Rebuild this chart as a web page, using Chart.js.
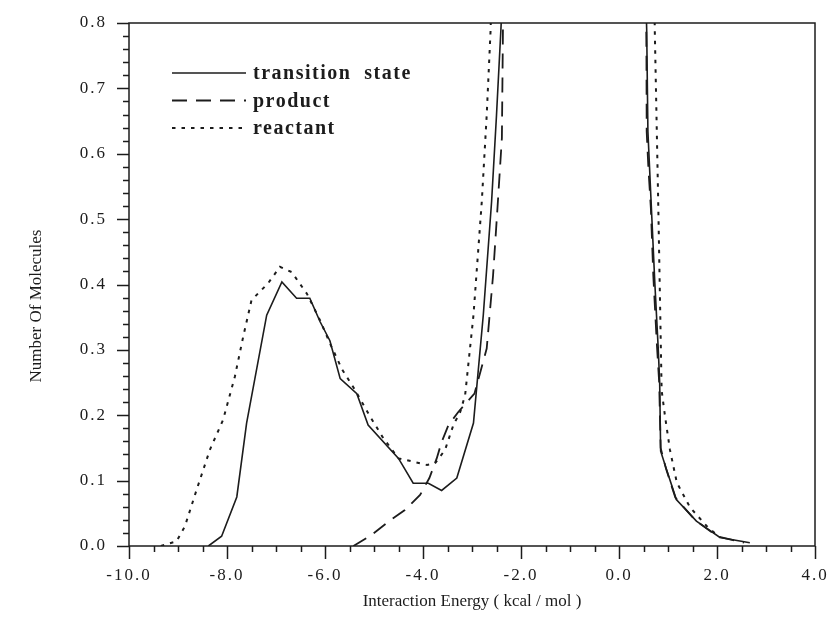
<!DOCTYPE html>
<html>
<head>
<meta charset="utf-8">
<script src="https://cdn.jsdelivr.net/npm/chart.js@4/dist/chart.umd.min.js"></script>
<style>
  html, body { margin: 0; padding: 0; background: #fff; }
</style>
</head>
<body>
<canvas id="chart" width="832" height="622"></canvas>
<script>
// values; null splits the two branches (peak near 0 is off scale)
const tsEnergy = [-8.38, -8.11, -7.80, -7.60, -7.19, -6.88, -6.58, -6.31, -6.10, -5.90, -5.69, -5.35, -5.12, -4.50, -4.20, -3.89, -3.62, -3.31, -2.97, -2.77, -2.60, -2.50, -2.41, -2.37,
                  -1.0,
                  0.54, 0.565, 0.59, 0.655, 0.73, 0.80, 0.83, 0.85, 0.97, 1.17, 1.58, 2.06, 2.67];
const tsCount = [0.000, 0.015, 0.075, 0.188, 0.353, 0.404, 0.379, 0.379, 0.343, 0.314, 0.256, 0.233, 0.185, 0.134, 0.096, 0.096, 0.085, 0.104, 0.188, 0.353, 0.527, 0.659, 0.790, 0.860,
                 null,
                 0.860, 0.790, 0.634, 0.527, 0.404, 0.303, 0.250, 0.145, 0.117, 0.071, 0.038, 0.013, 0.005];

const productEnergy = [-5.42, -5.05, -4.71, -4.37, -4.06, -3.87, -3.72, -3.62, -3.48, -3.28, -2.95, -2.70, -2.57, -2.48, -2.39, -2.37, -2.36,
                       -1.0,
                       0.55, 0.56, 0.565, 0.60, 0.65, 0.70, 0.77, 0.82, 0.85, 0.96, 1.15, 1.55, 2.00, 2.55];
const productCount = [0.000, 0.017, 0.037, 0.055, 0.078, 0.104, 0.134, 0.159, 0.185, 0.205, 0.233, 0.302, 0.414, 0.517, 0.624, 0.777, 0.860,
                      null,
                      0.860, 0.750, 0.634, 0.578, 0.517, 0.414, 0.312, 0.250, 0.150, 0.118, 0.074, 0.040, 0.015, 0.005];

const reactantEnergy = [-9.35, -9.27, -9.03, -8.86, -8.62, -8.35, -8.08, -7.84, -7.67, -7.50, -7.16, -6.92, -6.68, -6.37, -6.10, -5.90, -5.65, -5.39, -5.08, -4.81, -4.50, -4.20, -3.92, -3.76, -3.55, -3.38, -3.24, -3.14, -2.97, -2.80, -2.70, -2.62, -2.60,
                        -1.0,
                        0.72, 0.73, 0.80, 0.87, 0.94, 1.04, 1.18, 1.45, 1.82, 2.06];
const reactantCount = [0.000, 0.002, 0.007, 0.030, 0.086, 0.147, 0.193, 0.259, 0.320, 0.376, 0.402, 0.427, 0.419, 0.386, 0.345, 0.310, 0.270, 0.239, 0.198, 0.165, 0.134, 0.129, 0.124, 0.126, 0.147, 0.185, 0.205, 0.231, 0.353, 0.527, 0.659, 0.790, 0.860,
                       null,
                       0.860, 0.790, 0.527, 0.238, 0.198, 0.147, 0.097, 0.059, 0.028, 0.013];

const seriesNames = ["transition  state", "product", "reactant"];
const xTitle = "Interaction Energy ( kcal / mol )";
const yTitle = "Number Of Molecules";

const ink = "#1c1c1c";

function toPoints(xs, ys) {
    return xs.map((x, i) => ({ x: x, y: ys[i] }));
}

// box, outward ticks (major + minor), axis titles and the legend
const frame = {
    id: "frame",
    beforeDraw(chart) {
        chart.ctx.letterSpacing = "2px"; // the scanned tick labels are widely spaced
    },
    afterDraw(chart) {
        const { ctx, chartArea: a, scales: { x, y } } = chart;
        ctx.save();
        ctx.letterSpacing = "0px";
        ctx.strokeStyle = ink;
        ctx.fillStyle = ink;
        ctx.lineWidth = 1.5;
        ctx.setLineDash([]);
        ctx.strokeRect(a.left, a.top, a.right - a.left, a.bottom - a.top);

        ctx.beginPath();
        for (let i = 0; i <= 28; i++) {
            const v = -10 + i * 0.5;
            const px = Math.round(x.getPixelForValue(v)) + 0.5;
            ctx.moveTo(px, a.bottom);
            ctx.lineTo(px, a.bottom + (i % 4 === 0 ? 13 : 6));
        }
        for (let i = 0; i <= 40; i++) {
            const py = Math.round(y.getPixelForValue(i * 0.02)) + 0.5;
            ctx.moveTo(a.left, py);
            ctx.lineTo(a.left - (i % 5 === 0 ? 12 : 6), py);
        }
        ctx.stroke();

        // axis titles
        ctx.font = '17px "Liberation Serif"';
        ctx.textAlign = "center";
        ctx.textBaseline = "middle";
        ctx.fillText(xTitle, (a.left + a.right) / 2, 602);
        ctx.save();
        ctx.translate(37, 306);
        ctx.rotate(-Math.PI / 2);
        ctx.fillText(yTitle, 0, 0);
        ctx.restore();

        // legend
        chart.data.datasets.forEach((ds, i) => {
            const ly = a.top + 50 + i * 27.5;
            ctx.setLineDash(ds.borderDash || []);
            ctx.lineWidth = ds.borderWidth;
            ctx.beginPath();
            ctx.moveTo(a.left + 43, ly);
            ctx.lineTo(a.left + 117, ly);
            ctx.stroke();
            ctx.setLineDash([]);
            ctx.font = 'bold 20px "Liberation Serif"';
            ctx.letterSpacing = "1.5px";
            ctx.textAlign = "left";
            ctx.textBaseline = "alphabetic";
            ctx.fillText(ds.label, a.left + 124, ly + 6);
        });
        ctx.restore();
    }
};

const tickFont = { family: "Liberation Serif", size: 17 };

new Chart(document.getElementById("chart"), {
    type: "line",
    data: {
        datasets: [
            { label: seriesNames[0], data: toPoints(tsEnergy, tsCount), borderColor: ink, borderWidth: 1.6, borderDash: [] },
            { label: seriesNames[1], data: toPoints(productEnergy, productCount), borderColor: ink, borderWidth: 1.8, borderDash: [15, 9] },
            { label: seriesNames[2], data: toPoints(reactantEnergy, reactantCount), borderColor: ink, borderWidth: 2, borderDash: [3.5, 6] }
        ]
    },
    options: {
        responsive: false,
        animation: false,
        devicePixelRatio: 1,
        spanGaps: false,
        elements: { point: { radius: 0 }, line: { tension: 0, fill: false } },
        layout: { padding: { left: 0, right: 17, top: 23, bottom: 0 } },
        plugins: { legend: { display: false }, tooltip: { enabled: false } },
        scales: {
            x: {
                type: "linear",
                min: -10,
                max: 4,
                grid: { display: false },
                border: { display: false },
                ticks: {
                    stepSize: 2,
                    autoSkip: false,
                    maxRotation: 0,
                    padding: 11,
                    color: ink,
                    font: tickFont,
                    callback: (v) => v.toFixed(1)
                },
                afterFit: (scale) => {
                    scale.height = 76;
                    scale.paddingLeft = 0;
                    scale.paddingRight = 0;
                }
            },
            y: {
                min: 0,
                max: 0.8,
                grid: { display: false },
                border: { display: false },
                ticks: {
                    stepSize: 0.1,
                    padding: 14,
                    color: ink,
                    font: tickFont,
                    callback: (v) => v.toFixed(1)
                },
                afterFit: (scale) => {
                    scale.width = 129;
                    scale.paddingTop = 0;
                    scale.paddingBottom = 0;
                }
            }
        }
    },
    plugins: [frame]
});
</script>
</body>
</html>
